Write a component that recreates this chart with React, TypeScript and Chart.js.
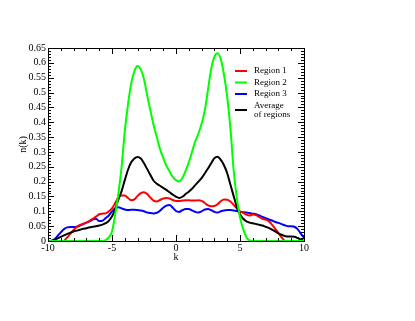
import React, { useEffect, useRef } from "react";
import { Chart, registerables } from "chart.js";

Chart.register(...registerables);

const K_VALUES = [
  -10, -9.75, -9.5, -9.25, -9, -8.75, -8.5, -8.25, -8, -7.75, -7.5, -7.25,
  -7, -6.75, -6.5, -6.25, -6, -5.75, -5.5, -5.25, -5, -4.75, -4.5, -4.25,
  -4, -3.75, -3.5, -3.25, -3, -2.75, -2.5, -2.25, -2, -1.75, -1.5, -1.25,
  -1, -0.75, -0.5, -0.25, 0, 0.25, 0.5, 0.75, 1, 1.25, 1.5, 1.75,
  2, 2.25, 2.5, 2.75, 3, 3.25, 3.5, 3.75, 4, 4.25, 4.5, 4.75,
  5, 5.25, 5.5, 5.75, 6, 6.25, 6.5, 6.75, 7, 7.25, 7.5, 7.75,
  8, 8.25, 8.5, 8.75, 9, 9.25, 9.5, 9.75, 10,
];

const REGION_1 = [
  null, null, null, null, null, 0, 0.012, 0.025, 0.037, 0.047, 0.054, 0.058,
  0.062, 0.068, 0.075, 0.082, 0.09, 0.092, 0.093, 0.1, 0.11, 0.128, 0.147, 0.153,
  0.153, 0.145, 0.137, 0.14, 0.152, 0.161, 0.164, 0.158, 0.146, 0.136, 0.133, 0.138,
  0.143, 0.145, 0.143, 0.138, 0.135, 0.135, 0.136, 0.137, 0.137, 0.136, 0.136, 0.137,
  0.135, 0.128, 0.12, 0.117, 0.118, 0.124, 0.134, 0.14, 0.139, 0.133, 0.122, 0.11,
  0.1, 0.095, 0.089, 0.086, 0.089, 0.087, 0.08, 0.075, 0.072, 0.067, 0.055, 0.041,
  0.027, 0.012, 0, null, null, null, null, null, null,
];

const REGION_2 = [
  0, 0, 0, 0, 0, 0, 0, 0, 0, 0, 0, 0,
  0, 0, 0, 0, 0, 0, 0.003, 0.012, 0.032, 0.09, 0.16, 0.25,
  0.37, 0.46, 0.53, 0.572, 0.589, 0.578, 0.545, 0.49, 0.44, 0.39, 0.35, 0.31,
  0.28, 0.254, 0.234, 0.216, 0.205, 0.2, 0.212, 0.236, 0.265, 0.3, 0.335, 0.362,
  0.395, 0.44, 0.51, 0.58, 0.62, 0.632, 0.612, 0.56, 0.485, 0.38, 0.24, 0.145,
  0.08, 0.04, 0.013, 0.002, 0, 0, 0, 0, 0, 0, 0, 0,
  0, 0, 0, 0, 0, 0, 0, 0, 0,
];

const REGION_3 = [
  null, 0, 0.006, 0.017, 0.029, 0.04, 0.046, 0.047, 0.047, 0.048, 0.052, 0.057,
  0.062, 0.066, 0.072, 0.075, 0.067, 0.068, 0.077, 0.086, 0.1, 0.11, 0.114, 0.11,
  0.106, 0.104, 0.105, 0.105, 0.104, 0.103, 0.1, 0.096, 0.094, 0.093, 0.095, 0.102,
  0.112, 0.119, 0.121, 0.112, 0.101, 0.098, 0.104, 0.108, 0.108, 0.103, 0.098, 0.096,
  0.1, 0.106, 0.108, 0.104, 0.098, 0.096, 0.1, 0.103, 0.104, 0.104, 0.103, 0.101,
  0.098, 0.097, 0.096, 0.094, 0.092, 0.09, 0.086, 0.081, 0.077, 0.073, 0.069, 0.064,
  0.061, 0.057, 0.053, 0.05, 0.05, 0.048, 0.04, 0.025, 0.01,
];

const AVERAGE = [
  null, 0, 0.004, 0.009, 0.014, 0.019, 0.024, 0.028, 0.032, 0.035, 0.038, 0.041,
  0.043, 0.046, 0.048, 0.05, 0.052, 0.055, 0.06, 0.068, 0.083, 0.108, 0.14, 0.168,
  0.205, 0.24, 0.265, 0.278, 0.283, 0.278, 0.262, 0.242, 0.222, 0.203, 0.193, 0.186,
  0.179, 0.172, 0.164, 0.156, 0.149, 0.145, 0.149, 0.158, 0.166, 0.176, 0.188, 0.2,
  0.212, 0.228, 0.244, 0.262, 0.279, 0.284, 0.273, 0.255, 0.228, 0.19, 0.152, 0.115,
  0.09, 0.075, 0.066, 0.062, 0.06, 0.057, 0.055, 0.052, 0.048, 0.044, 0.038, 0.032,
  0.026, 0.021, 0.017, 0.015, 0.015, 0.014, 0.01, 0.005, 0.001,
];

const SERIES_LABELS = ["Region 1", "Region 2", "Region 3", "Average\nof regions"];
const SERIES_COLORS = ["#ff0000", "#00ff00", "#0000ff", "#000000"];

const X_MIN = -10;
const X_MAX = 10;
const X_MAJOR = 5;
const X_MINOR = 1;
const Y_MIN = 0;
const Y_MAX = 0.65;
const Y_MAJOR = 0.05;
const Y_MINOR = 0.01;
const X_TITLE = "k";
const Y_TITLE = "n(k)";

const FONT = "'Liberation Serif', 'Times New Roman', serif";

const toPoints = (arr: (number | null)[]) =>
  K_VALUES.map((k, i) => ({ x: k, y: arr[i] }));

const decorPlugin = {
  id: "decor",
  afterDatasetsDraw(chart: any) {
    const { ctx, chartArea } = chart;
    const { left, right, top, bottom } = chartArea;
    const xs = chart.scales.x;
    const ys = chart.scales.y;
    ctx.save();
    ctx.strokeStyle = "#000";
    ctx.lineWidth = 1;
    ctx.beginPath();
    const nx = Math.round((X_MAX - X_MIN) / X_MINOR);
    for (let i = 0; i <= nx; i++) {
      const v = X_MIN + i * X_MINOR;
      const major = Math.abs(v / X_MAJOR - Math.round(v / X_MAJOR)) < 1e-6;
      const len = major ? 6 : 3;
      const px = Math.round(xs.getPixelForValue(v)) + 0.5;
      ctx.moveTo(px, bottom);
      ctx.lineTo(px, bottom - len);
      ctx.moveTo(px, top);
      ctx.lineTo(px, top + len);
    }
    const ny = Math.round((Y_MAX - Y_MIN) / Y_MINOR);
    for (let i = 0; i <= ny; i++) {
      const v = Y_MIN + i * Y_MINOR;
      const major = Math.abs(v / Y_MAJOR - Math.round(v / Y_MAJOR)) < 1e-6;
      const len = major ? 6 : 3;
      const py = Math.round(ys.getPixelForValue(v)) + 0.5;
      ctx.moveTo(left, py);
      ctx.lineTo(left + len, py);
      ctx.moveTo(right, py);
      ctx.lineTo(right - len, py);
    }
    ctx.stroke();
    ctx.strokeRect(Math.round(left) + 0.5, Math.round(top) + 0.5, Math.round(right - left), Math.round(bottom - top));

    ctx.fillStyle = "#000";
    ctx.font = `10px ${FONT}`;
    ctx.textAlign = "center";
    ctx.textBaseline = "middle";
    ctx.fillText(X_TITLE, (left + right) / 2, bottom + 16);
    ctx.save();
    ctx.translate(23, (top + bottom) / 2);
    ctx.rotate(-Math.PI / 2);
    ctx.fillText(Y_TITLE, 0, 0);
    ctx.restore();

    ctx.font = `9px ${FONT}`;
    ctx.textAlign = "left";
    const lx = right - 69;
    let y = top + 23;
    chart.data.datasets.forEach((ds: any) => {
      const lines = String(ds.label).split("\n");
      const lineH = 9;
      const blockMid = y + ((lines.length - 1) * lineH) / 2;
      ctx.strokeStyle = ds.borderColor;
      ctx.lineWidth = 2;
      ctx.beginPath();
      ctx.moveTo(lx, blockMid);
      ctx.lineTo(lx + 12, blockMid);
      ctx.stroke();
      ctx.fillStyle = "#000";
      lines.forEach((t, j) => ctx.fillText(t, lx + 19, y + j * lineH));
      y += 11 + (lines.length - 1) * lineH + 0.5;
    });
    ctx.restore();
  },
};

export default function App() {
  const ref = useRef<HTMLCanvasElement | null>(null);
  useEffect(() => {
    if (!ref.current) return;
    const series = [REGION_1, REGION_2, REGION_3, AVERAGE];
    const orders = [2, 0, 3, 1];
    const chart = new Chart(ref.current, {
      type: "line",
      data: {
        datasets: series.map((s, i) => ({
          label: SERIES_LABELS[i],
          data: toPoints(s),
          borderColor: SERIES_COLORS[i],
          backgroundColor: SERIES_COLORS[i],
          borderWidth: 2,
          pointRadius: 0,
          fill: false,
          spanGaps: false,
          cubicInterpolationMode: "monotone",
          order: orders[i],
        })),
      },
      options: {
        responsive: false,
        animation: false,
        events: [],
        layout: { padding: { left: 0, top: 48, right: 111, bottom: 50 } },
        plugins: { legend: { display: false }, tooltip: { enabled: false }, title: { display: false } },
        scales: {
          x: {
            type: "linear",
            min: X_MIN,
            max: X_MAX,
            grid: { display: false, drawTicks: false },
            border: { display: false },
            ticks: {
              stepSize: X_MAJOR,
              autoSkip: false,
              color: "#000",
              font: { family: FONT, size: 10 },
              padding: 1,
              maxRotation: 0,
            },
            afterFit: (s: any) => {
              s.height = 30;
            },
          },
          y: {
            type: "linear",
            min: Y_MIN,
            max: Y_MAX,
            grid: { display: false, drawTicks: false },
            border: { display: false },
            ticks: {
              stepSize: Y_MAJOR,
              autoSkip: false,
              color: "#000",
              font: { family: FONT, size: 10 },
              padding: 2,
              callback: (v: any) => String(Number(Number(v).toFixed(2))),
            },
            afterFit: (s: any) => {
              s.width = 48;
            },
          },
        },
      },
      plugins: [decorPlugin],
    });
    return () => chart.destroy();
  }, []);
  return (
    <div style={{ position: "fixed", left: 0, top: 0, width: 415, height: 321, background: "#fff" }}>
      <canvas ref={ref} width={415} height={321} style={{ width: 415, height: 321, display: "block" }} />
    </div>
  );
}
